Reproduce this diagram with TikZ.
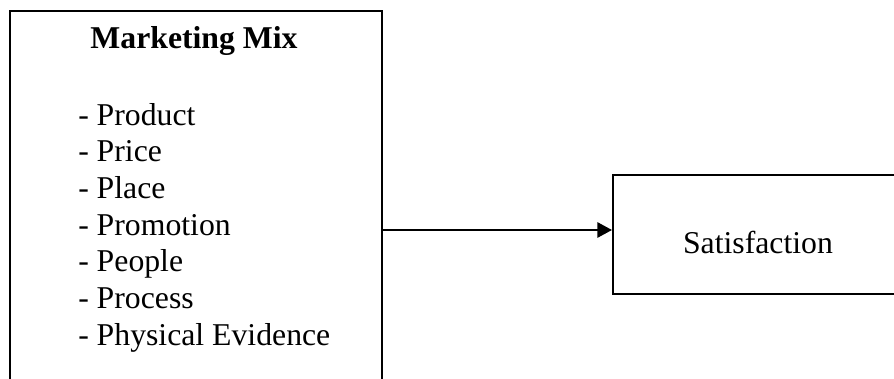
\documentclass[tikz,border=0pt]{standalone}
\usepackage{fontspec}
\setmainfont{Liberation Serif}
\usetikzlibrary{arrows.meta}

\begin{document}
\begin{tikzpicture}[x=0.75pt,y=-0.75pt,
    box/.style={draw, line width=1.5pt, rectangle, inner sep=0pt},
    item/.style={anchor=base west, inner sep=0pt, font=\fontsize{23.8}{27.5}\selectfont}]
    \useasboundingbox (0,0) rectangle (894,379);
    \clip (0,0) rectangle (894,379);

    % Draw the two boxes (both run off the page)
    \node[box, minimum width=372*0.75pt, minimum height=438*0.75pt, anchor=north west] (mix) at (9,10) {};
    \node[box, minimum width=292*0.75pt, minimum height=119*0.75pt, anchor=north west] (sat) at (612,174) {};

    % Title and list of the seven P's
    \node[item, anchor=base, font=\fontsize{23.8}{27.5}\selectfont\bfseries] (title) at (194,48) {Marketing Mix};
    \node[item] (p1) at (78,125) {- Product};
    \node[item] (p2) at (78,161.7) {- Price};
    \node[item] (p3) at (78,198.4) {- Place};
    \node[item] (p4) at (78,235.1) {- Promotion};
    \node[item] (p5) at (78,271.8) {- People};
    \node[item] (p6) at (78,308.5) {- Process};
    \node[item] (p7) at (78,345.2) {- Physical Evidence};

    \node[item, anchor=base] (satlabel) at (758,253) {Satisfaction};

    % Draw the connecting arrow
    \draw[line width=1.5pt, -{Triangle[length=11pt,width=11.5pt]}] (mix.east) -- (mix.east -| sat.west);

\end{tikzpicture}
\end{document}
